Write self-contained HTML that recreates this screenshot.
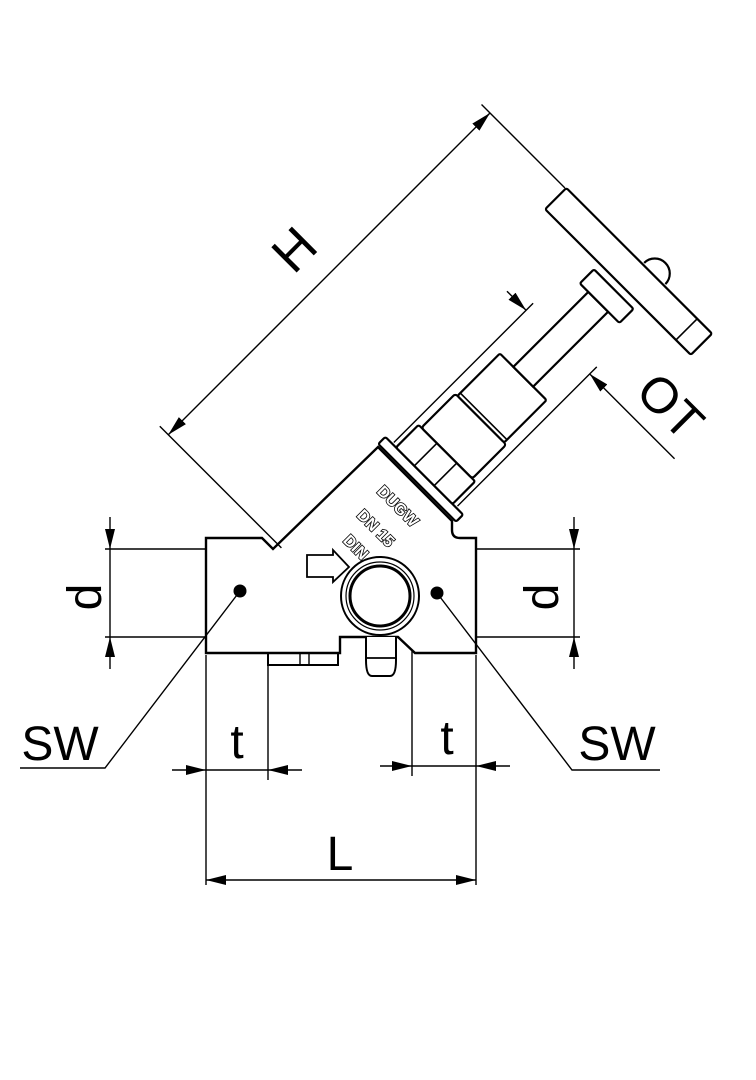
<!DOCTYPE html>
<html><head><meta charset="utf-8"><style>
html,body{margin:0;padding:0;background:#fff}
svg{display:block}
text{font-family:"Liberation Sans",sans-serif}
</style></head><body>
<svg width="756" height="1080" viewBox="0 0 756 1080" xmlns="http://www.w3.org/2000/svg">
<defs>
<marker id="a" viewBox="0 0 20 10" refX="20" refY="5" markerWidth="20" markerHeight="10" markerUnits="userSpaceOnUse" orient="auto-start-reverse"><path d="M0,0 L20,5 L0,10 z" fill="#000"/></marker>
</defs>
<g fill="none" stroke="#000" stroke-width="1.4">
<!-- d left -->
<line x1="105" y1="549" x2="206" y2="549"/><line x1="105" y1="637" x2="206" y2="637"/>
<line x1="110" y1="517" x2="110" y2="549" marker-end="url(#a)"/><line x1="110" y1="669" x2="110" y2="637" marker-end="url(#a)"/>
<line x1="110" y1="549" x2="110" y2="637"/>
<!-- d right -->
<line x1="476" y1="549" x2="580" y2="549"/><line x1="476" y1="637" x2="580" y2="637"/>
<line x1="574" y1="517" x2="574" y2="549" marker-end="url(#a)"/><line x1="574" y1="669" x2="574" y2="637" marker-end="url(#a)"/>
<line x1="574" y1="549" x2="574" y2="637"/>
<!-- t left -->
<line x1="206" y1="655" x2="206" y2="885"/><line x1="268" y1="640" x2="268" y2="780"/>
<line x1="172" y1="770" x2="206" y2="770" marker-end="url(#a)"/><line x1="302" y1="770" x2="268" y2="770" marker-end="url(#a)"/>
<line x1="206" y1="770" x2="268" y2="770"/>
<!-- t right -->
<line x1="412" y1="640" x2="412" y2="776"/><line x1="476" y1="655" x2="476" y2="885"/>
<line x1="380" y1="766" x2="412" y2="766" marker-end="url(#a)"/><line x1="510" y1="766" x2="476" y2="766" marker-end="url(#a)"/>
<line x1="412" y1="766" x2="476" y2="766"/>
<!-- L -->
<line x1="206" y1="880" x2="476" y2="880" marker-start="url(#a)" marker-end="url(#a)"/>
<!-- body -->
<path d="M206,538 L262,538 L273,549 L378,447 L452,521 L452,530 Q452,538 460,538 L476,538 L476,653 L415,653 L398,637 L340,637 L340,653 L206,653 Z" fill="#fff" stroke-width="2.4"/>
<rect x="268" y="653" width="70" height="12" stroke-width="2"/>
<line x1="300" y1="653" x2="300" y2="665"/><line x1="309" y1="653" x2="309" y2="665"/>
<!-- SW leaders -->
<polyline points="240,591 105,768 20,768"/>
<polyline points="437,593 572,770 660,770"/>
<!-- nipple -->
<path d="M366,637 L366,660 Q366,676 372,676 L390,676 Q396,676 396,660 L396,637" fill="#fff" stroke-width="2"/>
<line x1="366" y1="658" x2="396" y2="658" stroke-width="1.8"/>
<!-- port -->
<circle cx="380" cy="596" r="39" fill="#fff" stroke-width="2"/>
<circle cx="380" cy="596" r="34" stroke-width="1.2"/>
<circle cx="380" cy="596" r="30" stroke-width="3"/>
<!-- flag arrow -->
<path d="M307,555 L333,555 L333,550 L349,567 L333,582 L333,577 L307,577 Z" fill="#fff" stroke-width="1.8"/>
<!-- dots -->
<circle cx="240" cy="591" r="6.5" fill="#000" stroke="none"/>
<circle cx="437" cy="593" r="6.5" fill="#000" stroke="none"/>
</g>
<!-- rotated stem assembly -->
<g transform="translate(420,480) rotate(-45)" fill="none" stroke="#000">
<g stroke-width="1.4">
<line x1="-146" y1="-222" x2="-146" y2="-50"/>
<line x1="309" y1="-222" x2="309" y2="-104"/>
<line x1="-146" y1="-210" x2="309" y2="-210" marker-start="url(#a)" marker-end="url(#a)"/>
<line x1="8" y1="-45" x2="205" y2="-45"/>
<line x1="8" y1="45" x2="205" y2="45"/>
<line x1="195" y1="-72" x2="195" y2="-45" marker-end="url(#a)"/>
<line x1="195" y1="165" x2="195" y2="45" marker-end="url(#a)"/>
</g>
<g stroke-width="2.2" fill="#fff">
<rect x="-4" y="-55" width="10" height="110" rx="2"/>
<rect x="6" y="-40" width="32" height="80" rx="2"/>
<rect x="38" y="-36" width="48" height="72" rx="3"/>
<rect x="86" y="-33" width="60" height="66" rx="2"/>
<rect x="146" y="-14" width="106" height="28"/>
<path d="M312,5 A15,15 0 0 1 312,35" />
<rect x="252" y="-26" width="20" height="56" rx="2"/>
<rect x="280" y="-103" width="30" height="206" rx="2"/>
</g>
<g stroke-width="1.6">
<line x1="6" y1="-14" x2="38" y2="-14"/><line x1="6" y1="14" x2="38" y2="14"/>
<line x1="280" y1="82" x2="310" y2="82"/>
<line x1="90" y1="-33" x2="90" y2="33"/>
</g>
<text x="74" y="-234" font-size="52" fill="#000" stroke="none" text-anchor="middle">H</text>
<g transform="translate(212,125) rotate(90)"><text x="0" y="0" font-size="50" fill="#000" stroke="none" text-anchor="middle">OT</text></g>
</g>
<!-- body labels -->
<g font-weight="bold" font-size="16" fill="#fff" stroke="#000" stroke-width="1.6" text-anchor="middle" paint-order="stroke">
<text transform="translate(394,510) rotate(45)">DUGW</text>
<text transform="translate(372,532) rotate(45)">DN 15</text>
<text transform="translate(352,551) rotate(45)">DIN</text>
</g>
<!-- labels -->
<g fill="#000" font-size="48">
<text transform="translate(101,597) rotate(-90)" text-anchor="middle">d</text>
<text transform="translate(558,597) rotate(-90)" text-anchor="middle">d</text>
<text x="60" y="760" text-anchor="middle">SW</text>
<text x="617" y="760" text-anchor="middle">SW</text>
<text x="237" y="758" text-anchor="middle">t</text>
<text x="447" y="754" text-anchor="middle">t</text>
<text x="340" y="870" text-anchor="middle">L</text>
</g>
</svg>
</body></html>
